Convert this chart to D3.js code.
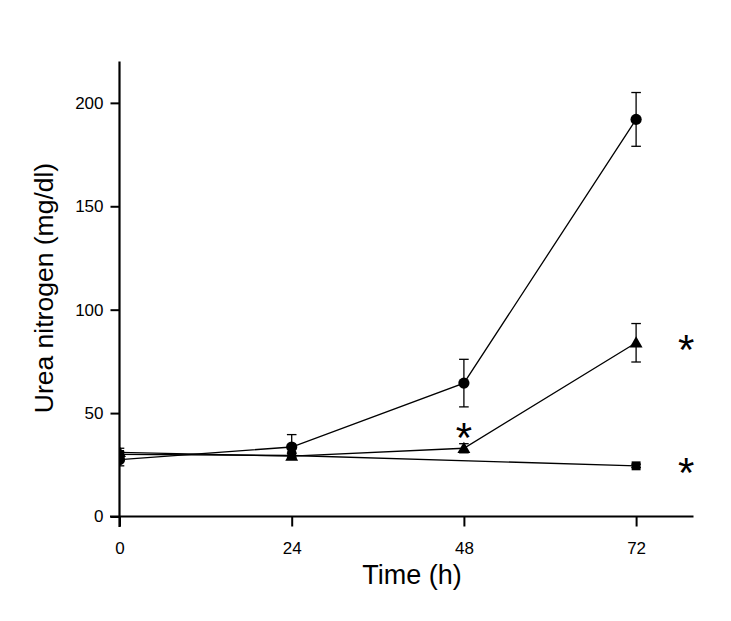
<!DOCTYPE html>
<html>
<head>
<meta charset="utf-8">
<script src="https://cdn.jsdelivr.net/npm/d3@7"></script>
<style>
  html, body { margin: 0; padding: 0; background: #fff; }
  svg { display: block; font-family: "Liberation Sans", Arial, Helvetica, sans-serif; }
</style>
</head>
<body>
<svg id="chart" width="731" height="621"></svg>
<script>
// ---- data ----
const xTicks = [0, 24, 48, 72];
const yTicks = [0, 50, 100, 150, 200];

const circleTimes = [0, 24, 48, 72];
const circleMeans = [27.5, 33.6, 64.5, 192];
const circleErrs  = [3, 6, 11.5, 13];

const triangleTimes = [0, 24, 48, 72];
const triangleMeans = [31, 29.2, 33, 84];
const triangleErrs  = [2, 1.5, 2.2, 9.3];

const squareTimes = [0, 24, 72];
const squareMeans = [30, 29.5, 24.5];
const squareErrs  = [1.5, 1, 0.8];

// asterisk annotations: [time, value]
const starTimes  = [48, 72, 72];
const starValues = [41, 83.4, 24];

// ---- layout ----
const svg = d3.select("#chart");
const x = d3.scaleLinear().domain([0, 80]).range([119.5, 693.5]);
const y = d3.scaleLinear().domain([0, 220]).range([516.5, 61.5]);

svg.append("defs").append("clipPath").attr("id", "plotclip")
  .append("rect").attr("x", 120).attr("y", 40).attr("width", 600).attr("height", 490);

const xAxis = svg.append("g").attr("transform", `translate(0,${y(0)})`)
  .call(d3.axisBottom(x).tickValues(xTicks).tickSize(10).tickPadding(15).tickSizeOuter(0));
const yAxis = svg.append("g").attr("transform", `translate(${x(0)},0)`)
  .call(d3.axisLeft(y).tickValues(yTicks).tickSize(9).tickPadding(7).tickSizeOuter(0));

[xAxis, yAxis].forEach(g => {
  g.select(".domain").remove();
  g.selectAll(".tick line").attr("stroke", "#000").attr("stroke-width", 2);
  g.selectAll(".tick text").attr("fill", "#000").style("font-size", "17px")
    .style("font-family", '"Liberation Sans", Arial, sans-serif');
});
svg.append("line").attr("x1", 110).attr("x2", x(80)).attr("y1", y(0)).attr("y2", y(0))
  .attr("stroke", "#000").attr("stroke-width", 2.2);
svg.append("line").attr("x1", x(0)).attr("x2", x(0)).attr("y1", y(220)).attr("y2", y(0) + 10.5)
  .attr("stroke", "#000").attr("stroke-width", 2.2);

svg.append("text").attr("x", 412).attr("y", 584).attr("text-anchor", "middle")
  .style("font-size", "27px").attr("fill", "#000").text("Time (h)");
svg.append("text").attr("transform", "translate(53,288) rotate(-90)").attr("text-anchor", "middle")
  .style("font-size", "26.5px").attr("fill", "#000").text("Urea nitrogen (mg/dl)");

const plot = svg.append("g").attr("clip-path", "url(#plotclip)");

const series = [
  { times: circleTimes, means: circleMeans, errs: circleErrs, shape: "circle" },
  { times: triangleTimes, means: triangleMeans, errs: triangleErrs, shape: "triangle" },
  { times: squareTimes, means: squareMeans, errs: squareErrs, shape: "square" }
];

const line = d3.line().x(d => x(d.t)).y(d => y(d.v));

series.forEach(s => {
  s.pts = s.times.map((t, i) => ({ t, v: s.means[i], e: s.errs[i] }));
  plot.append("path").datum(s.pts).attr("d", line)
    .attr("fill", "none").attr("stroke", "#000").attr("stroke-width", 1.3);
});

series.forEach(s => {
  const g = plot.append("g");
  s.pts.forEach(p => {
    const cx = x(p.t), top = y(p.v + p.e), bot = y(p.v - p.e);
    g.append("line").attr("x1", cx).attr("x2", cx).attr("y1", top).attr("y2", bot)
      .attr("stroke", "#000").attr("stroke-width", 1.3);
    [top, bot].forEach(yy => g.append("line").attr("x1", cx - 4.8).attr("x2", cx + 4.8)
      .attr("y1", yy).attr("y2", yy).attr("stroke", "#000").attr("stroke-width", 1.3));
  });
});

const sym = {
  circle: d3.symbol().type(d3.symbolCircle).size(Math.PI * 5.6 * 5.6),
  triangle: d3.symbol().type(d3.symbolTriangle).size(72),
  square: d3.symbol().type(d3.symbolSquare).size(80)
};
series.forEach(s => {
  plot.append("g").selectAll("path").data(s.pts).join("path")
    .attr("transform", d => `translate(${x(d.t)},${y(d.v) + (s.shape === "triangle" ? 1 : 0)})`)
    .attr("d", sym[s.shape]()).attr("fill", "#000");
});

// asterisks
const starDx = [0, 50, 50];
svg.append("g").selectAll("text").data(starTimes.map((t, i) => ({ t, v: starValues[i], dx: starDx[i] })))
  .join("text")
  .attr("x", d => x(d.t) + d.dx).attr("y", d => y(d.v) + 20)
  .attr("text-anchor", "middle").style("font-size", "42px").attr("fill", "#000")
  .text("*");
</script>
</body>
</html>
